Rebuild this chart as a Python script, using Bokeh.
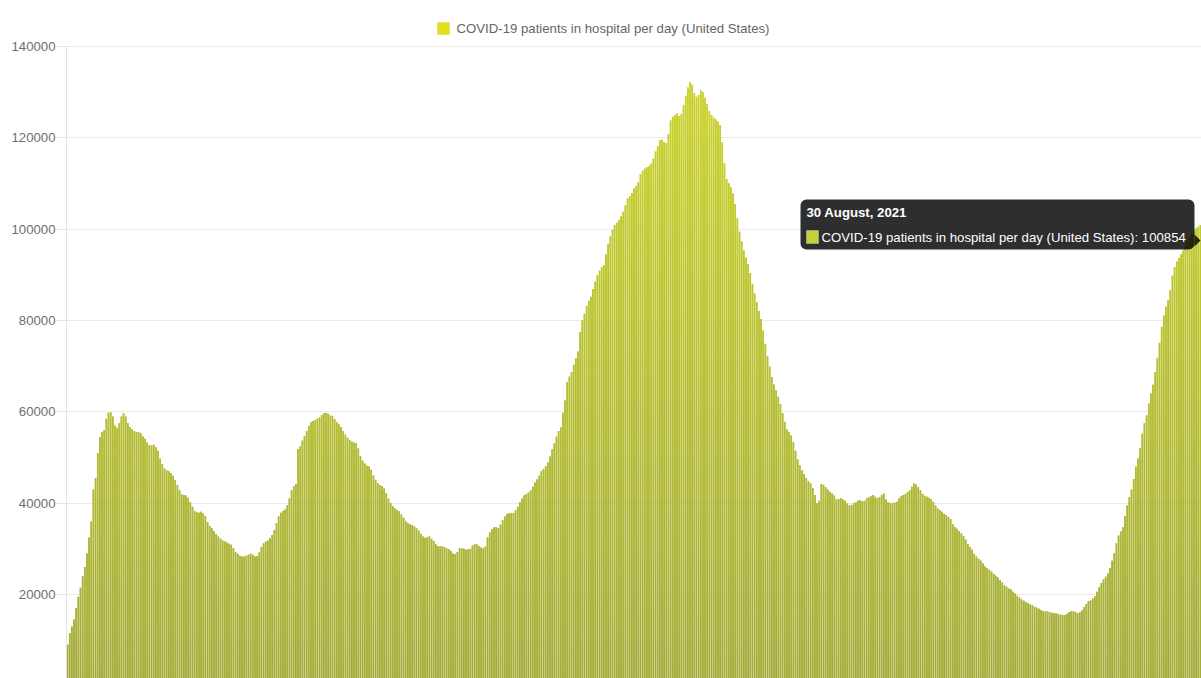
import numpy as np
import pandas as pd
from bokeh.plotting import figure
from bokeh.models import (Range1d, FixedTicker, NumeralTickFormatter, Label,
                          BoxAnnotation, PolyAnnotation, ColumnDataSource)
from bokeh.embed import file_html
from bokeh.resources import INLINE

# ---------------- data ----------------
series_name = "COVID-19 patients in hospital per day (United States)"
end_date = "2021-08-30"
y_ticks = [0, 20000, 40000, 60000, 80000, 100000, 120000, 140000]

patients = [
    9000, 11500, 13000, 14500, 17000, 19500, 21500, 24000, 26000, 29000,
    32500, 36000, 43000, 45500, 51000, 54500, 55500, 56000, 58500, 59800,
    59900, 59000, 57000, 56500, 57500, 59000, 59700, 59000, 57500, 56700,
    56200, 55800, 55600, 55500, 55300, 54600, 54100, 53300, 52700, 52700,
    52800, 52300, 51500, 49800, 48500, 47600, 47200, 47000, 46600, 46000,
    45000, 44000, 42800, 41900, 41800, 41700, 41200, 40200, 39200, 38200,
    38000, 37900, 38100, 37800, 37200, 35800, 35000, 34500, 33900, 33200,
    32700, 32200, 31800, 31600, 31400, 31100, 30900, 30100, 29300, 28900,
    28500, 28300, 28300, 28500, 28700, 28900, 28700, 28300, 28400, 29200,
    30400, 31200, 31600, 31800, 32300, 33000, 34100, 35600, 37100, 37900,
    38300, 38600, 39500, 41000, 42800, 43700, 44200, 51800, 52400, 53700,
    54700, 55800, 56900, 57700, 58000, 58200, 58500, 58800, 59300, 59700,
    59800, 59600, 59200, 59100, 58400, 57700, 57300, 56700, 55800, 55000,
    54300, 53800, 53500, 53300, 53100, 52000, 50300, 49300, 48700, 48200,
    48000, 47300, 46100, 45100, 44400, 44000, 43700, 43200, 42200, 41000,
    40000, 39300, 38900, 38500, 38200, 37500, 36800, 36100, 35600, 35400,
    35200, 34900, 34500, 34000, 33300, 32700, 32400, 32500, 32700, 32200,
    31700, 31000, 30600, 30500, 30600, 30400, 30100, 29900, 29500, 29000,
    28800, 29300, 30100, 30100, 30000, 29800, 29900, 30000, 30700, 31000,
    31000, 30600, 30300, 30100, 30500, 32500, 33600, 34300, 34700, 34700,
    34500, 35300, 36300, 37100, 37600, 37800, 37800, 37800, 38400, 39200,
    40200, 41000, 41700, 42000, 42300, 42800, 43600, 44500, 45200, 46000,
    47000, 47500, 48100, 48900, 50200, 51800, 53100, 54600, 55800, 56600,
    59800, 62500, 66500, 67700, 68700, 70300, 71800, 73200, 77500, 80000,
    81500, 83200, 84300, 85200, 86900, 88500, 89900, 90900, 91700, 92100,
    94500, 96800, 98400, 99800, 100900, 101400, 102000, 102800, 103800, 105200,
    106700, 107200, 107900, 108900, 109400, 110300, 112000, 112800, 113300, 113600,
    113800, 114300, 115400, 117000, 118200, 119500, 119600, 119100, 118800, 120800,
    123800, 124600, 125000, 125300, 124800, 125200, 127200, 129200, 131000, 132200,
    131600, 129800, 129000, 129300, 130400, 130000, 128800, 127400, 125800, 125000,
    124400, 124000, 123500, 122800, 119000, 114500, 111000, 110100, 109200, 107800,
    105500, 102400, 99500, 97300, 95300, 93800, 92300, 90400, 88000, 85900,
    84000, 82100, 80300, 77800, 74900, 72200, 69900, 67600, 66000, 64800,
    63300, 61700, 59700, 57800, 56100, 55600, 54800, 53400, 51500, 49600,
    48300, 47200, 46300, 45500, 44800, 44300, 43300, 41800, 40000, 40500,
    44200, 44000, 43500, 43000, 42500, 42100, 41700, 40800, 40900, 41100,
    40800, 40500, 40000, 39500, 39600, 40000, 40200, 40500, 40700, 40400,
    40500, 41100, 41300, 41500, 41800, 41400, 41100, 41300, 41800, 42100,
    40800, 40200, 40000, 40000, 40100, 40300, 41000, 41500, 41800, 42000,
    42400, 42800, 43600, 44300, 44100, 43500, 42800, 42000, 41600, 41400,
    41200, 40900, 40300, 39500, 38900, 38500, 38100, 37700, 37400, 37000,
    36500, 35400, 34800, 34400, 33900, 33400, 32800, 32000, 31000, 30400,
    29800, 28900, 28300, 27800, 27400, 26800, 26100, 25800, 25400, 25000,
    24500, 24100, 23700, 23100, 22600, 22000, 21700, 21300, 21100, 20600,
    20200, 19700, 19300, 18900, 18600, 18300, 18100, 17800, 17600, 17300,
    17100, 16900, 16600, 16400, 16300, 16300, 16100, 16000, 15900, 15900,
    15700, 15600, 15500, 15500, 15800, 16100, 16300, 16300, 16200, 15900,
    16100, 16500, 17200, 17900, 18500, 18700, 19100, 19600, 20600, 21600,
    22500, 23300, 23900, 24600, 25800, 27400, 29000, 31200, 32900, 33800,
    34700, 37200, 39500, 41300, 43000, 45300, 48000, 49800, 52000, 55200,
    57500, 59200, 61800, 64000, 65900, 68700, 71800, 75100, 78600, 81100,
    83000, 84400, 86600, 89800, 91700, 92900, 93700, 94500, 95300, 96500,
    97500, 98300, 99000, 99600, 100200, 100500, 100854,
]

n = len(patients)
dates = pd.date_range(end=end_date, periods=n, freq="D")
vals = np.array(patients, dtype=float)
idx = np.arange(n)

# ---------------- figure ----------------
W, H = 1201, 678
FRAME_LEFT = 66          # px from the left of the page
Y_AXIS_TOP = 140000
Y_END = 150070           # value at the top edge of the frame
Y_START = 1600           # value at the bottom edge of the frame

p = figure(width=W, height=H, output_backend="svg", toolbar_location=None,
           x_range=Range1d(-0.5, n - 0.5), y_range=Range1d(Y_START, Y_END),
           x_axis_location=None, min_border_left=FRAME_LEFT, min_border_right=0,
           min_border_top=0, min_border_bottom=0)
p.outline_line_color = None
p.background_fill_color = "white"
p.border_fill_color = "white"
p.xgrid.visible = False

FONT = "Liberation Sans"
FS = "13.2px"

ticker = FixedTicker(ticks=y_ticks)
p.yaxis.ticker = ticker
p.yaxis.bounds = (Y_START, Y_AXIS_TOP)
p.yaxis.formatter = NumeralTickFormatter(format="0")
p.yaxis.axis_line_color = "#e3e3e3"
p.yaxis.major_tick_line_color = "#e3e3e3"
p.yaxis.major_tick_out = 10
p.yaxis.major_tick_in = 0
p.yaxis.minor_tick_line_color = None
p.yaxis.major_label_text_font = FONT
p.yaxis.major_label_text_font_size = FS
p.yaxis.major_label_text_color = "#6e6e6e"
p.yaxis.major_label_standoff = 1
p.ygrid.grid_line_color = "#ebebeb"

# bars with a vertical colour gradient (bottom olive -> top yellow).
# Two band layers, offset by half a band, so that band joins do not show.
c_bottom = np.array([0xa3, 0xac, 0x3a])
c_top = np.array([0xcc, 0xd4, 0x2a])
rows_per_band = 20
span = Y_END - Y_START
BAR_W = 0.72


def draw_bands(row_offset):
    rows = [0] + list(range(row_offset, H, rows_per_band)) + [H]
    rows = sorted(set(rows))
    edges = [Y_START + span * r / H for r in rows]
    for lo, hi in zip(edges[:-1], edges[1:]):
        m = vals > lo
        if not m.any():
            continue
        t = min(max(((lo + hi) / 2) / Y_AXIS_TOP, 0.0), 1.0)
        col = c_bottom + (c_top - c_bottom) * t
        hexcol = "#%02x%02x%02x" % tuple(int(round(c)) for c in col)
        src = ColumnDataSource(dict(
            x=idx[m],
            top=np.minimum(vals[m], hi),
            bottom=np.full(int(m.sum()), lo if lo > Y_START else 0),
        ))
        p.vbar(x="x", top="top", bottom="bottom", width=BAR_W, source=src,
               fill_color=hexcol, line_color=None)


draw_bands(rows_per_band // 2)
draw_bands(rows_per_band)


def sx(px):
    return px - FRAME_LEFT


def sy(py):
    return H - py


def screen_box(l, r, t, b, **kw):
    return BoxAnnotation(left=sx(l), right=sx(r), top=sy(t), bottom=sy(b),
                         left_units="screen", right_units="screen",
                         top_units="screen", bottom_units="screen",
                         level="overlay", **kw)


# ---------------- legend (top centre) ----------------
p.add_layout(screen_box(437, 449, 22, 34, fill_color="#e2e21c", fill_alpha=1.0,
                        line_color="#c9c93a", line_width=1))
p.add_layout(Label(x=sx(456), y=sy(28), x_units="screen", y_units="screen",
                   text=series_name, text_font=FONT, text_font_size=FS,
                   text_color="#666666", text_baseline="middle", text_align="left"))

# ---------------- tooltip for the last day ----------------
last_date = dates[-1]
title_text = f"{last_date.day} {last_date.strftime('%B')}, {last_date.year}"
body_text = f"{series_name}: {int(vals[-1])}"

p.add_layout(screen_box(800, 1194, 199, 249, fill_color="black", fill_alpha=0.82,
                        line_color=None, border_radius=6))
p.add_layout(PolyAnnotation(xs=[sx(1194), sx(1200), sx(1194)],
                            ys=[sy(234), sy(240), sy(246)],
                            xs_units="screen", ys_units="screen",
                            fill_color="black", fill_alpha=0.82, line_color=None,
                            level="overlay"))
p.add_layout(screen_box(806, 818, 230, 243, fill_color="#c6cf3c", fill_alpha=1.0,
                        line_color="white", line_width=1))
p.add_layout(Label(x=sx(806), y=sy(212), x_units="screen", y_units="screen",
                   text=title_text, text_font=FONT, text_font_size=FS,
                   text_font_style="bold", text_color="white",
                   text_baseline="middle", text_align="left", level="overlay"))
p.add_layout(Label(x=sx(821), y=sy(237), x_units="screen", y_units="screen",
                   text=body_text, text_font=FONT, text_font_size=FS,
                   text_color="white", text_baseline="middle", text_align="left",
                   level="overlay"))

open("out.html", "w").write(file_html(p, INLINE))
